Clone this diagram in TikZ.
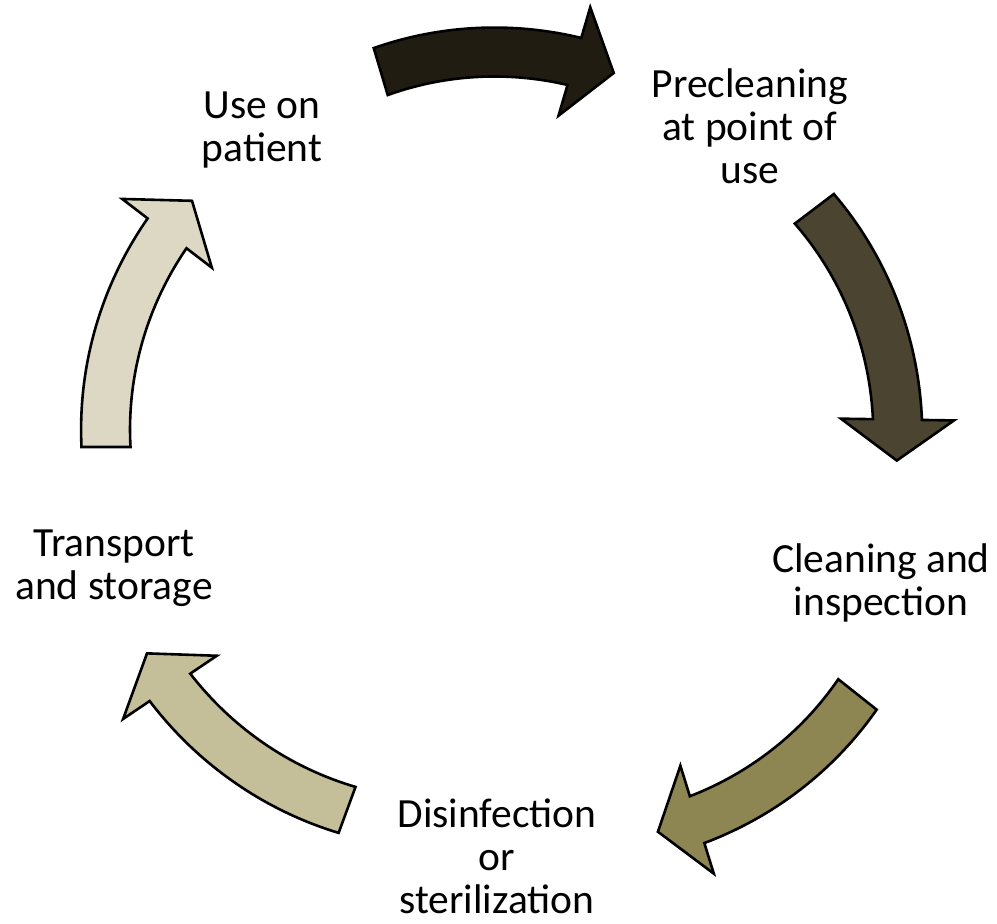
\documentclass[tikz,border=0pt]{standalone}
\usepackage{fontspec}
\setmainfont{Carlito}
\definecolor{cA}{HTML}{201C11}
\definecolor{cB}{HTML}{4A4430}
\definecolor{cC}{HTML}{8D8653}
\definecolor{cD}{HTML}{C4BE99}
\definecolor{cE}{HTML}{DCD8C3}
% #1,#2 centre of the arc; #3,#4 start/end angle; #5,#6 mid radius at tail/head; #7 fill
\newcommand\cycarrow[7]{%
  \path[cyc,fill=#7]
    plot[domain=#3:#4,samples=40,variable=\t]
      ({#1+(#5+(#6-#5)*(\t-(#3))/((#4)-(#3))+24.5)*cos(\t)},
       {#2+(#5+(#6-#5)*(\t-(#3))/((#4)-(#3))+24.5)*sin(\t)})
    -- ({#1+(#6+56.5)*cos(#4)},{#2+(#6+56.5)*sin(#4)})
    -- ({#1+#6*cos(#4)-41*sin(#4)},{#2+#6*sin(#4)+41*cos(#4)})
    -- ({#1+(#6-56.5)*cos(#4)},{#2+(#6-56.5)*sin(#4)})
    -- plot[domain=#4:#3,samples=40,variable=\t]
      ({#1+(#5+(#6-#5)*(\t-(#3))/((#4)-(#3))-24.5)*cos(\t)},
       {#2+(#5+(#6-#5)*(\t-(#3))/((#4)-(#3))-24.5)*sin(\t)})
    -- cycle;}
\begin{document}
\begin{tikzpicture}[x=1pt,y=-1pt,
  cyc/.style={draw=black,line width=2.6pt,line join=miter},
  lbl/.style={align=center,inner sep=0pt,anchor=base,font=\fontsize{41.5}{43}\selectfont}]
\useasboundingbox (0,0) rectangle (997,924);
\cycarrow{477}{394.5}{-106.6}{-73.7}{337}{347}{cA}
\cycarrow{544}{414}{-37.2}{0.9}{339.4}{353.5}{cB}
\cycarrow{593.6}{485.3}{38.4}{72.8}{336.7}{350}{cC}
\cycarrow{465.5}{488}{110.2}{146.0}{343}{356.5}{cD}
\cycarrow{445.5}{447}{180}{217.5}{339.5}{351}{cE}
% labels (anchor = baseline of last line)
\node[lbl] (use) at (262,161) {Use on\\patient};
\node[lbl] (pre) at (750,183) {Precleaning\\at point of\\use};
\node[lbl] (cln) at (881,615) {Cleaning and\\inspection};
\node[lbl] (dis) at (497,913) {Disinfection\\or\\sterilization};
\node[lbl] (trn) at (114,599) {Transport\\and storage};
\end{tikzpicture}
\end{document}
